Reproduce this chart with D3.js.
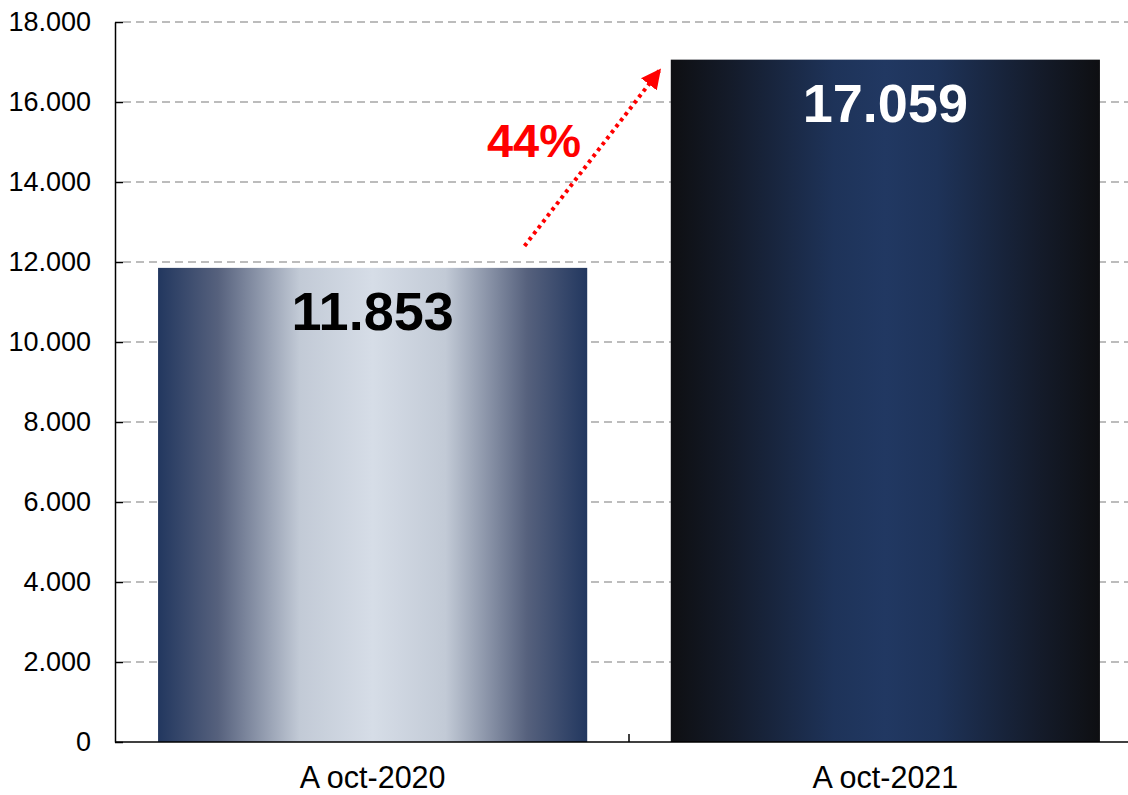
<!DOCTYPE html>
<html>
<head>
<meta charset="utf-8">
<script src="https://cdn.jsdelivr.net/npm/d3@7"></script>
<style>
  body { margin: 0; background: #fff; }
  text { font-family: "Liberation Sans", Arial, sans-serif; }
</style>
</head>
<body>
<div id="chart"></div>
<script>
// data
var categories = ["A oct-2020", "A oct-2021"];
var values = [11853, 17059];
var yTicks = [0, 2000, 4000, 6000, 8000, 10000, 12000, 14000, 16000, 18000];
// arrow between the two bars: [category, value]
var arrowFrom = [categories[0], 12400];
var arrowTo = [categories[1], 16800];
var labelColors = ["#000000", "#ffffff"];

var width = 1128, height = 795;
var margin = {top: 22, right: 0, bottom: 53, left: 115};

var svg = d3.select("#chart").append("svg")
  .attr("width", width)
  .attr("height", height);

//gradients for the bars
var defs = svg.append("defs");
var gradStops = [
  [["0", "#22375f"], ["0.14", "#56617d"], ["0.33", "#c2cad6"], ["0.5", "#d6dde7"], ["0.67", "#c2cad6"], ["0.86", "#56617d"], ["1", "#22375f"]],
  [["0", "#0e0f12"], ["0.14", "#141b2a"], ["0.38", "#1e3359"], ["0.5", "#213862"], ["0.62", "#1e3359"], ["0.86", "#141b2a"], ["1", "#0e0f12"]]
];
gradStops.forEach(function(stops, i) {
  var g = defs.append("linearGradient")
    .attr("id", "grad" + i)
    .attr("x1", "0%").attr("x2", "100%").attr("y1", "0%").attr("y2", "0%");
  stops.forEach(function(s) {
    g.append("stop").attr("offset", s[0]).attr("stop-color", s[1]);
  });
});

var x = d3.scaleBand()
  .domain(categories)
  .range([margin.left, 1143])
  .paddingInner(0.163)
  .paddingOuter(0.084);

var y = d3.scaleLinear()
  .domain([0, 18000])
  .range([height - margin.bottom, margin.top]);

var fmt = function(d) {
  return d3.format(",")(d).replace(/,/g, ".");
};

//grid lines
svg.append("g")
  .selectAll("line")
  .data(yTicks.slice(1))
  .enter().append("line")
    .attr("x1", margin.left + 8)
    .attr("x2", width)
    .attr("y1", function(d) { return y(d); })
    .attr("y2", function(d) { return y(d); })
    .attr("stroke", "#a6a6a6")
    .attr("stroke-width", 1.5)
    .attr("stroke-dasharray", "8,5");

//bars
svg.append("g")
  .selectAll("rect")
  .data(values)
  .enter().append("rect")
    .attr("x", function(d, i) { return x(categories[i]); })
    .attr("y", function(d) { return y(d); })
    .attr("width", x.bandwidth())
    .attr("height", function(d) { return y(0) - y(d); })
    .attr("fill", function(d, i) { return "url(#grad" + i + ")"; });

//y axis
var yAxis = svg.append("g")
  .attr("transform", "translate(" + margin.left + ",0)")
  .call(d3.axisLeft(y).tickValues(yTicks).tickFormat(fmt).tickSizeInner(-8).tickSizeOuter(0).tickPadding(24));
yAxis.select(".domain").attr("stroke", "#000").attr("stroke-width", 1.5);
yAxis.selectAll(".tick line").attr("stroke", "#000").attr("stroke-width", 1.5);
yAxis.selectAll(".tick text")
  .attr("font-size", 27)
  .attr("fill", "#000")
  .style("font-family", "'Liberation Sans', Arial, sans-serif");

//x axis
var xAxis = svg.append("g")
  .attr("transform", "translate(0," + y(0) + ")");
xAxis.append("line")
  .attr("x1", margin.left).attr("x2", width)
  .attr("stroke", "#000").attr("stroke-width", 1.5);
//tick between the categories
xAxis.append("line")
  .attr("x1", x(categories[1]) - x.step() * x.paddingInner() / 2)
  .attr("x2", x(categories[1]) - x.step() * x.paddingInner() / 2)
  .attr("y1", 0).attr("y2", -8)
  .attr("stroke", "#000").attr("stroke-width", 1.5);
xAxis.selectAll(".xlabel")
  .data(categories)
  .enter().append("text")
    .attr("class", "xlabel")
    .attr("x", function(d) { return x(d) + x.bandwidth() / 2; })
    .attr("y", 46)
    .attr("text-anchor", "middle")
    .attr("font-size", 30.5)
    .attr("fill", "#000")
    .text(function(d) { return d; });

//value labels
svg.append("g")
  .selectAll("text")
  .data(values)
  .enter().append("text")
    .attr("x", function(d, i) { return x(categories[i]) + x.bandwidth() / 2; })
    .attr("y", function(d) { return y(d) + 62; })
    .attr("text-anchor", "middle")
    .attr("font-size", 54)
    .attr("font-weight", "bold")
    .attr("fill", function(d, i) { return labelColors[i]; })
    .text(function(d) { return fmt(d); });

//growth arrow
defs.append("marker")
  .attr("id", "arrowhead")
  .attr("viewBox", "0 0 10 10")
  .attr("refX", 9).attr("refY", 5)
  .attr("markerWidth", 5).attr("markerHeight", 5)
  .attr("markerUnits", "strokeWidth")
  .attr("orient", "auto")
  .append("path")
    .attr("d", "M0,0 L10,5 L0,10 Z")
    .attr("fill", "#ff0000");

var ax1 = x(arrowFrom[0]) + x.bandwidth() * 0.854,
    ay1 = y(arrowFrom[1]),
    ax2 = x(arrowTo[0]) - 11,
    ay2 = y(arrowTo[1]);
svg.append("line")
  .attr("x1", ax1).attr("y1", ay1)
  .attr("x2", ax2).attr("y2", ay2)
  .attr("stroke", "#ff0000")
  .attr("stroke-width", 4)
  .attr("stroke-dasharray", "3.5,4")
  .attr("marker-end", "url(#arrowhead)");

var growth = values[1] / values[0] - 1;
svg.append("text")
  .attr("x", 534)
  .attr("y", 157)
  .attr("text-anchor", "middle")
  .attr("font-size", 47)
  .attr("font-weight", "bold")
  .attr("fill", "#ff0000")
  .text(Math.round(growth * 100) + "%");
</script>
</body>
</html>
